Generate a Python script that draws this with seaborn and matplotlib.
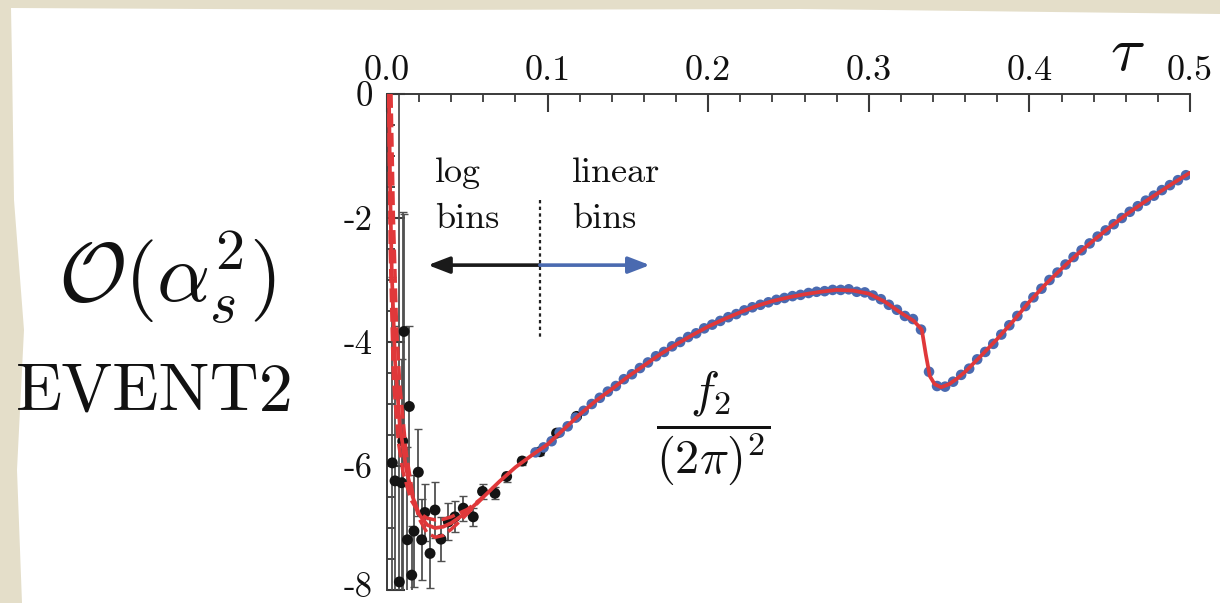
import numpy as np
import pandas as pd
import matplotlib
matplotlib.use("Agg")
import matplotlib.pyplot as plt
import matplotlib.transforms as mtransforms
import seaborn as sns
from matplotlib.patches import Polygon
from matplotlib.ticker import MultipleLocator

sns.set_style("ticks")
plt.rcParams["mathtext.fontset"] = "cm"
plt.rcParams["axes.unicode_minus"] = False

# ---------------- data ----------------
xtick_vals = [0.0, 0.1, 0.2, 0.3, 0.4, 0.5]
xtick_labels = ["0.0", "0.1", "0.2", "0.3", "0.4", "0.5"]
ytick_vals = [0, -2, -4, -6, -8]
ytick_labels = ["0", "-2", "-4", "-6", "-8"]

# log-binned EVENT2 points (black) with error bars
black_tau = [0.0033, 0.0050, 0.0077, 0.0091, 0.0098, 0.0106, 0.0127, 0.0139, 0.0154,
             0.0168, 0.0195, 0.0216, 0.0236, 0.0268, 0.0299, 0.0336, 0.0382, 0.0423,
             0.0475, 0.0537, 0.0595, 0.0672, 0.0745, 0.0842, 0.0952, 0.1056, 0.1180]
black_y = [-5.95, -6.24, -7.87, -6.27, -5.60, -3.83, -7.19, -5.04, -7.76,
           -7.05, -6.10, -7.19, -6.75, -7.41, -6.71, -7.18, -6.90, -6.82,
           -6.68, -6.82, -6.41, -6.44, -6.17, -5.92, -5.77, -5.47, -5.20]
black_err = [3.0, 2.5, 7.9, 2.0, 3.7, 1.9, 1.5, 1.3, 0.8,
             0.9, 0.7, 0.65, 0.46, 0.55, 0.45, 0.35, 0.30, 0.25,
             0.20, 0.15, 0.12, 0.10, 0.08, 0.06, 0.05, 0.04, 0.03]

# linear-binned EVENT2 points (blue)
blue_tau = [0.0925, 0.0975, 0.1025, 0.1075, 0.1125, 0.1175, 0.1225, 0.1275, 0.1325, 0.1375,
            0.1425, 0.1475, 0.1525, 0.1575, 0.1625, 0.1675, 0.1725, 0.1775, 0.1825, 0.1875,
            0.1925, 0.1975, 0.2025, 0.2075, 0.2125, 0.2175, 0.2225, 0.2275, 0.2325, 0.2375,
            0.2425, 0.2475, 0.2525, 0.2575, 0.2625, 0.2675, 0.2725, 0.2775, 0.2825, 0.2875,
            0.2925, 0.2975, 0.3025, 0.3075, 0.3125, 0.3175, 0.3225, 0.3275, 0.3325, 0.3375,
            0.3425, 0.3475, 0.3525, 0.3575, 0.3625, 0.3675, 0.3725, 0.3775, 0.3825, 0.3875,
            0.3925, 0.3975, 0.4025, 0.4075, 0.4125, 0.4175, 0.4225, 0.4275, 0.4325, 0.4375,
            0.4425, 0.4475, 0.4525, 0.4575, 0.4625, 0.4675, 0.4725, 0.4775, 0.4825, 0.4875,
            0.4925, 0.4975]
blue_y = [-5.78, -5.70, -5.60, -5.46, -5.36, -5.22, -5.11, -5.00, -4.90, -4.80,
          -4.71, -4.60, -4.52, -4.42, -4.33, -4.23, -4.16, -4.07, -4.00, -3.92,
          -3.86, -3.78, -3.72, -3.66, -3.60, -3.55, -3.49, -3.44, -3.40, -3.36,
          -3.32, -3.29, -3.26, -3.24, -3.21, -3.19, -3.18, -3.16, -3.16, -3.15,
          -3.19, -3.20, -3.25, -3.31, -3.40, -3.48, -3.58, -3.63, -3.80, -4.48,
          -4.71, -4.72, -4.64, -4.53, -4.43, -4.28, -4.16, -4.03, -3.88, -3.73,
          -3.58, -3.42, -3.28, -3.14, -3.00, -2.88, -2.75, -2.63, -2.52, -2.41,
          -2.30, -2.20, -2.10, -2.00, -1.90, -1.81, -1.72, -1.64, -1.55, -1.47,
          -1.39, -1.31]

# fitted f2/(2pi)^2 (red, solid)
red_tau = [0.0012, 0.002, 0.003, 0.005, 0.008, 0.012, 0.016, 0.02, 0.025, 0.03, 0.035,
           0.04, 0.05, 0.06, 0.07, 0.08, 0.09, 0.10, 0.11, 0.12, 0.13, 0.14, 0.15, 0.16,
           0.17, 0.18, 0.19, 0.20, 0.21, 0.22, 0.23, 0.24, 0.25, 0.26, 0.27, 0.28, 0.29,
           0.30, 0.31, 0.32, 0.328, 0.333, 0.3355, 0.338, 0.341, 0.345, 0.35, 0.355, 0.36,
           0.37, 0.38, 0.39, 0.40, 0.41, 0.42, 0.43, 0.44, 0.45, 0.46, 0.47, 0.48, 0.49, 0.50]
red_y = [0.0, -1.6, -2.9, -4.3, -5.35, -6.05, -6.5, -6.78, -6.95, -7.0, -6.98,
         -6.92, -6.74, -6.5, -6.25, -6.02, -5.83, -5.65, -5.41, -5.17, -4.95, -4.76, -4.56, -4.38,
         -4.20, -4.04, -3.89, -3.75, -3.63, -3.52, -3.42, -3.34, -3.28, -3.23, -3.19, -3.16, -3.17,
         -3.22, -3.35, -3.53, -3.66, -3.80, -4.20, -4.55, -4.68, -4.73, -4.68, -4.59, -4.48,
         -4.22, -3.95, -3.66, -3.35, -3.07, -2.82, -2.58, -2.36, -2.15, -1.95, -1.77, -1.60, -1.43, -1.27]

# uncertainty band at small tau (red, dashed)
upper_tau = [0.001, 0.002, 0.004, 0.007, 0.010, 0.015, 0.020, 0.025, 0.030, 0.035, 0.040, 0.045, 0.050, 0.060]
upper_y = [0.0, -2.5, -4.6, -5.6, -6.1, -6.55, -6.76, -6.84, -6.87, -6.86, -6.82, -6.76, -6.70, -6.50]
lower_tau = [0.0025, 0.004, 0.006, 0.008, 0.012, 0.016, 0.020, 0.025, 0.030, 0.035, 0.040, 0.045, 0.050, 0.060]
lower_y = [0.0, -2.0, -3.8, -4.7, -5.8, -6.45, -6.85, -7.08, -7.15, -7.12, -7.02, -6.90, -6.77, -6.50]

# ---------------- figure ----------------
W, H = 1220, 603
fig = plt.figure(figsize=(W / 100, H / 100), dpi=100)
fig.patch.set_facecolor("#e4dec9")


def px(x, y):
    return (x / W, 1 - y / H)


paper = Polygon([px(*p) for p in [(11, 8), (400, 10), (800, 9), (1220, 14), (1220, 603),
                                  (22, 603), (17, 470), (24, 330), (14, 200), (12, 60)]],
                closed=True, transform=fig.transFigure, facecolor="white",
                edgecolor="none", zorder=-5)
fig.add_artist(paper)

ax = fig.add_axes([387 / W, 1 - 590 / H, (1190 - 387) / W, (590 - 94) / H])
ax.set_facecolor("none")

red = "#e0383a"
blue = "#4a6ab0"

ax.errorbar(black_tau, black_y, yerr=black_err, fmt="none", ecolor="#505050",
            elinewidth=1.3, capsize=3, capthick=1.0, zorder=2)
sns.scatterplot(x=black_tau, y=black_y, color="#141414", s=62, edgecolor="none",
                ax=ax, zorder=3, legend=False)
sns.scatterplot(x=blue_tau, y=blue_y, color=blue, s=58, edgecolor="none",
                ax=ax, zorder=4, legend=False)
sns.lineplot(x=upper_tau, y=upper_y, sort=False, estimator=None, color=red, lw=2.5,
             linestyle=(0, (4, 1.6)), ax=ax, zorder=5)
sns.lineplot(x=lower_tau, y=lower_y, sort=False, estimator=None, color=red, lw=2.5,
             linestyle=(0, (4, 1.6)), ax=ax, zorder=5)
sns.lineplot(x=red_tau, y=red_y, sort=False, estimator=None, color=red, lw=2.7,
             ax=ax, zorder=6)

# axes styling
ax.set_xlim(0, 0.5)
ax.set_ylim(-8, 0)
ax.set_xlabel("")
ax.set_ylabel("")
for s in ["bottom", "right"]:
    ax.spines[s].set_visible(False)
for s in ["top", "left"]:
    ax.spines[s].set_color("#3a3a3a")
    ax.spines[s].set_linewidth(1.4)

ax.set_xticks(xtick_vals)
ax.set_xticklabels(xtick_labels, fontfamily="cmr10", fontsize=26, color="#111111")
ax.set_yticks(ytick_vals)
ax.set_yticklabels(ytick_labels, fontfamily="cmr10", fontsize=25, color="#111111")
ax.xaxis.set_minor_locator(MultipleLocator(0.02))
ax.yaxis.set_minor_locator(MultipleLocator(0.5))
ax.tick_params(axis="x", which="both", top=True, bottom=False, labeltop=True,
               labelbottom=False, direction="in", color="#3a3a3a")
ax.tick_params(axis="y", which="both", left=True, right=False, direction="in", color="#3a3a3a")
ax.tick_params(which="major", length=13, width=1.5)
ax.tick_params(which="minor", length=6, width=1.3)
ax.tick_params(axis="x", which="major", pad=5)
ax.tick_params(axis="y", which="major", pad=10)

# nudge the bottom y label up a little so it stays inside the figure
lbl = ax.get_yticklabels()[-1]
lbl.set_transform(lbl.get_transform() + mtransforms.ScaledTranslation(0, 4 / 72, fig.dpi_scale_trans))

# bin annotations
ax.plot([0.0952, 0.0952], [-1.71, -3.97], color="#222222", lw=1.6, linestyle=(0, (1.5, 1.5)), zorder=3)
ax.annotate("", xy=(0.0255, -2.76), xytext=(0.0952, -2.76),
            arrowprops=dict(arrowstyle="-|>,head_length=1.3,head_width=0.5",
                            color="#1a1a1a", lw=2.6, shrinkA=0, shrinkB=0))
ax.annotate("", xy=(0.1637, -2.76), xytext=(0.0952, -2.76),
            arrowprops=dict(arrowstyle="-|>,head_length=1.3,head_width=0.5",
                            color=blue, lw=2.6, shrinkA=0, shrinkB=0))
ax.text(0.0299, -1.42, "log", fontfamily="cmr10", fontsize=26, va="baseline", ha="left", color="#111111")
ax.text(0.0299, -2.16, "bins", fontfamily="cmr10", fontsize=26, va="baseline", ha="left", color="#111111")
ax.text(0.1151, -1.42, "linear", fontfamily="cmr10", fontsize=26, va="baseline", ha="left", color="#111111")
ax.text(0.1151, -2.16, "bins", fontfamily="cmr10", fontsize=26, va="baseline", ha="left", color="#111111")
ax.text(0.2029, -5.39, r"$\dfrac{f_2}{(2\pi)^2}$", fontsize=35, ha="center", va="center", color="#111111")

# figure-level labels
fig.text(*px(1127, 52), r"$\tau$", fontsize=46, ha="center", va="center", color="#111111")
fig.text(*px(167, 278), r"$\mathcal{O}(\alpha_s^2)$", fontsize=60, ha="center", va="center", color="#111111")
fig.text(*px(155, 393), "EVENT2", fontfamily="cmr10", fontsize=49, ha="center", va="center", color="#111111")

fig.savefig("out.png", dpi=100, facecolor=fig.get_facecolor())
